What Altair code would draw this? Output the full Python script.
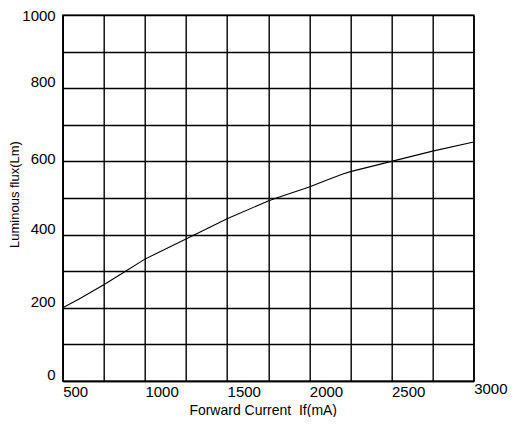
import altair as alt
import pandas as pd

current = [500, 600, 750, 875, 1000, 1250, 1500, 1750, 1800, 2000, 2100, 2200, 2250, 2500, 2750, 3000]
flux = [200, 224, 263, 298, 333, 388, 443, 492, 500, 530, 548, 565, 572, 600, 628, 653]

x_ticks = [500, 750, 1000, 1250, 1500, 1750, 2000, 2250, 2500, 2750, 3000]
y_ticks = [0, 100, 200, 300, 400, 500, 600, 700, 800, 900, 1000]

df = pd.DataFrame({"current": current, "flux": flux})

FONT = "Liberation Sans"

x_axis = alt.Axis(
    values=x_ticks,
    labelExpr="datum.value % 500 == 0 ? datum.label : ''",
    format="d",
    grid=True,
    gridColor="black",
    gridWidth=1.4,
    gridOpacity=1,
    domainColor="black",
    domainWidth=1.4,
    ticks=False,
    tickSize=0,
    labelAlign="left",
    labelBaseline="top",
    labelFont=FONT,
    labelFontSize=15,
    labelColor="black",
    labelPadding={"condition": {"test": "datum.value == 3000", "value": 1}, "value": 4},
    labelFlush=False,
    labelOverlap=False,
    title="Forward Current\u00a0 If(mA)",
    titleFont=FONT,
    titleFontSize=14,
    titleFontWeight="normal",
    titleColor="black",
    titleAnchor="start",
    titleAlign="center",
    titleBaseline="alphabetic",
    titleX=200,
    titleY=33.5,
)

y_axis = alt.Axis(
    values=y_ticks,
    labelExpr="datum.value % 200 == 0 ? datum.label : ''",
    format="d",
    grid=True,
    gridColor="black",
    gridWidth=1.4,
    gridOpacity=1,
    domainColor="black",
    domainWidth=1.4,
    ticks=False,
    tickSize=0,
    labelAlign="right",
    labelBaseline="middle",
    labelFont=FONT,
    labelFontSize=15,
    labelColor="black",
    labelPadding=7.5,
    labelOffset={
        "condition": [
            {"test": "datum.value == 1000", "value": 0},
            {"test": "datum.value == 600", "value": -3},
        ],
        "value": -6.5,
    },
    labelFlush=False,
    labelOverlap=False,
    title="Luminous flux(Lm)",
    titleFont=FONT,
    titleFontSize=13,
    titleFontWeight="normal",
    titleColor="black",
    titleAnchor="start",
    titleAlign="center",
    titleBaseline="alphabetic",
    titleAngle=270,
    titleX=-44.5,
    titleY=179,
)

chart = (
    alt.Chart(df)
    .mark_line(color="black", strokeWidth=1.1)
    .encode(
        x=alt.X("current:Q", scale=alt.Scale(domain=[500, 3000], nice=False, zero=False), axis=x_axis),
        y=alt.Y("flux:Q", scale=alt.Scale(domain=[0, 1000], nice=False), axis=y_axis),
    )
    .properties(
        width=411,
        height=366,
        autosize=alt.AutoSizeParams(type="none"),
        padding={"left": 54.7, "top": 7, "right": 35, "bottom": 36},
        background="white",
    )
    .configure_view(stroke="black", strokeWidth=1.4)
)

chart.save("out.html", embed_options={"renderer": "svg", "actions": False})
